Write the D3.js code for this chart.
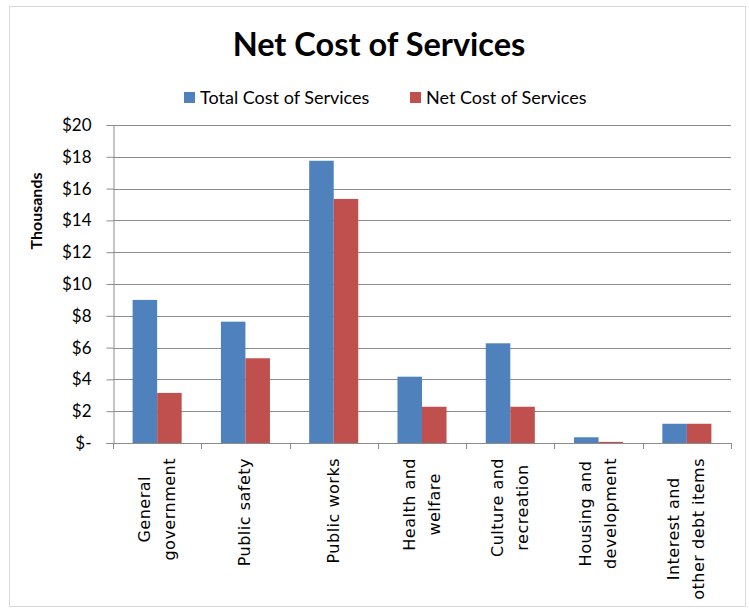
<!DOCTYPE html>
<html lang="en">

<head>
  <meta charset="UTF-8">
  <title>Net Cost of Services</title>
  <script src="https://cdn.jsdelivr.net/npm/d3@7"></script>
  <style type="text/css">
    body {
      margin: 0;
      background: #fff;
    }

    text {
      fill: #000;
    }
  </style>
</head>

<body>
  <script type="text/javascript">
    // data, values in thousands of dollars
    var categories = [
      ['General', 'government'],
      ['Public safety'],
      ['Public works'],
      ['Health and', 'welfare'],
      ['Culture and', 'recreation'],
      ['Housing and', 'development'],
      ['Interest and', 'other debt items']
    ]
    var seriesNames = ['Total Cost of Services', 'Net Cost of Services']
    var totalCost = [9.0, 7.63, 17.75, 4.17, 6.27, 0.36, 1.21]
    var netCost = [3.15, 5.33, 15.35, 2.28, 2.28, 0.07, 1.21]
    var yTicks = [0, 2, 4, 6, 8, 10, 12, 14, 16, 18, 20]
    var colors = ['#4F81BD', '#C0504D']

    var w = 749
    var h = 609
    var plotL = 113, plotR = 731, plotT = 125, plotB = 443

    var svg = d3.select('body').append('svg').attr('width', w).attr('height', h)

    // outer chart border
    svg.append('rect')
      .attr('x', 9.5).attr('y', 6.5)
      .attr('width', 736).attr('height', 600)
      .attr('fill', '#fff').attr('stroke', '#d9d9d9')

    var x0 = d3.scaleBand().domain(d3.range(categories.length)).range([plotL, plotR]).paddingInner(0).paddingOuter(0)
    var x1 = d3.scaleBand().domain([0, 1]).range([0, x0.bandwidth()]).paddingInner(0).paddingOuter(0.8)
    var y = d3.scaleLinear().domain([0, 20]).range([plotB, plotT])

    // gridlines
    svg.append('g').selectAll('line').data(yTicks.slice(1)).enter().append('line')
      .attr('x1', plotL).attr('x2', plotR)
      .attr('y1', function (d) { return Math.round(y(d)) + 0.5 })
      .attr('y2', function (d) { return Math.round(y(d)) + 0.5 })
      .attr('stroke', '#8c8c8c').attr('stroke-width', 1)

    // bars
    var groups = svg.append('g').selectAll('g').data(categories).enter().append('g')
      .attr('transform', function (d, i) { return 'translate(' + x0(i) + ',0)' })
    groups.selectAll('rect').data(function (d, i) { return [totalCost[i], netCost[i]] }).enter().append('rect')
      .attr('x', function (d, j) { return x1(j) })
      .attr('width', x1.bandwidth())
      .attr('y', function (d) { return y(d) })
      .attr('height', function (d) { return y(0) - y(d) })
      .attr('fill', function (d, j) { return colors[j] })

    // y axis
    var yAxis = d3.axisLeft(y).tickValues(yTicks).tickSize(7).tickPadding(15)
      .tickFormat(function (d) { return d === 0 ? '$-' : '$' + d })
    var gy = svg.append('g').attr('transform', 'translate(' + (plotL + 0.5) + ',0)').call(yAxis)
    gy.select('.domain').attr('stroke', '#8c8c8c')
    gy.selectAll('.tick line').attr('stroke', '#8c8c8c')
    gy.selectAll('.tick text').attr('font-family', 'Lato, sans-serif').attr('font-size', '17px').attr('fill', '#000')

    // x axis line and ticks at band edges
    var gx = svg.append('g')
    gx.append('line').attr('x1', plotL).attr('x2', plotR + 1)
      .attr('y1', plotB + 0.5).attr('y2', plotB + 0.5).attr('stroke', '#8c8c8c')
    gx.selectAll('line.tk').data(d3.range(categories.length + 1)).enter().append('line')
      .attr('class', 'tk')
      .attr('x1', function (i) { return Math.round(plotL + i * x0.step()) + 0.5 })
      .attr('x2', function (i) { return Math.round(plotL + i * x0.step()) + 0.5 })
      .attr('y1', plotB).attr('y2', plotB + 6).attr('stroke', '#8c8c8c')

    // category labels, rotated, lines centred in a block hanging from the axis
    var lineGap = 25
    var labels = svg.append('g').selectAll('g').data(categories).enter().append('g')
    labels.each(function (lines, i) {
      var g = d3.select(this)
      var cx = x0(i) + x0.bandwidth() / 2
      var texts = g.selectAll('text').data(lines).enter().append('text')
        .attr('font-family', '"DejaVu Sans", sans-serif')
        .attr('font-size', '16px')
        .attr('letter-spacing', '0.5px')
        .attr('text-anchor', 'middle')
        .text(function (d) { return d })
      var maxLen = d3.max(texts.nodes(), function (n) { return n.getComputedTextLength() })
      var cy = 458 + maxLen / 2
      texts.attr('transform', function (d, k) {
        var lx = cx + (k - (lines.length - 1) / 2) * lineGap + 5
        return 'translate(' + lx + ',' + cy + ') rotate(-90)'
      })
    })

    // y axis title
    svg.append('text')
      .attr('transform', 'translate(42,211) rotate(-90)')
      .attr('text-anchor', 'middle')
      .attr('font-family', 'Lato, sans-serif').attr('font-weight', 'bold').attr('font-size', '16px')
      .text('Thousands')

    // chart title
    svg.append('text')
      .attr('x', 379).attr('y', 56)
      .attr('text-anchor', 'middle')
      .attr('font-family', 'Lato, sans-serif').attr('font-weight', 'bold').attr('font-size', '32.5px')
      .text('Net Cost of Services')

    // legend
    var legendX = [184, 410]
    var legend = svg.append('g').selectAll('g').data(seriesNames).enter().append('g')
      .attr('transform', function (d, i) { return 'translate(' + legendX[i] + ',92)' })
    legend.append('rect').attr('width', 11).attr('height', 11).attr('fill', function (d, i) { return colors[i] })
    legend.append('text').attr('x', 16).attr('y', 11.5)
      .attr('font-family', 'Lato, sans-serif').attr('font-size', '18px')
      .text(function (d) { return d })
  </script>
</body>

</html>
